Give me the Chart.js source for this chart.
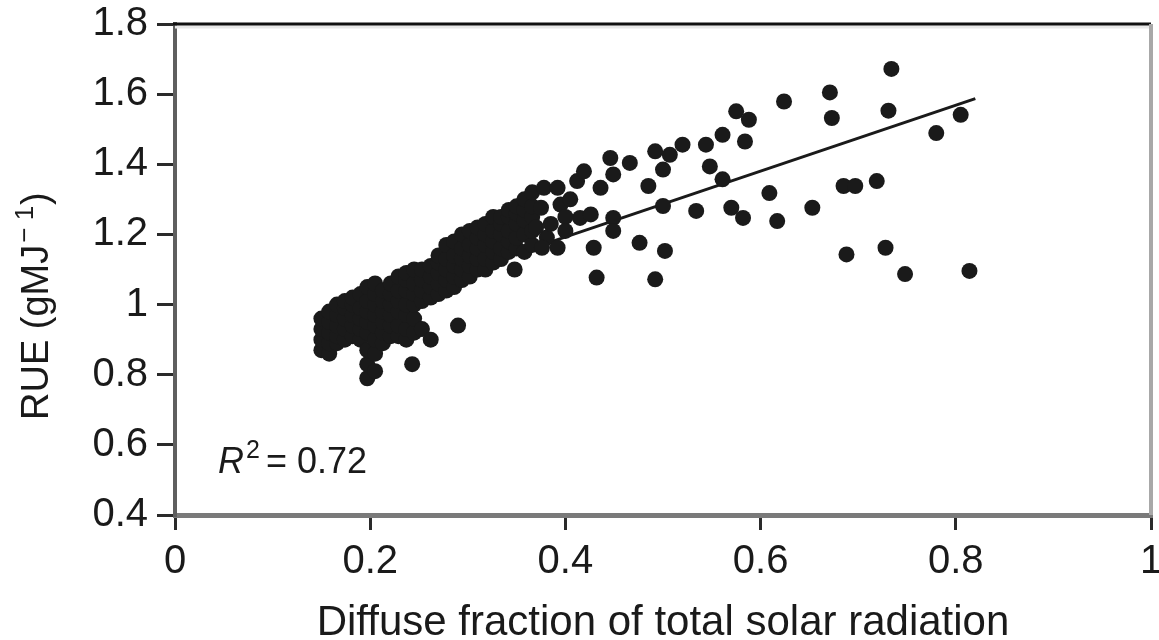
<!DOCTYPE html>
<html>
<head>
<meta charset="utf-8">
<title>RUE vs diffuse fraction</title>
<script src="https://cdn.jsdelivr.net/npm/chart.js@4.4.1/dist/chart.umd.min.js"></script>
<style>
  html, body { margin: 0; padding: 0; background: #fff; }
  #wrap { width: 1159px; height: 640px; }
</style>
</head>
<body>
<div id="wrap"><canvas id="rueChart" width="1159" height="640"></canvas></div>
<script>
// diffuse fraction (x) and RUE (y)
var diffuseFraction = [
  0.150, 0.150, 0.150, 0.150,
  0.158, 0.158, 0.158, 0.158, 0.158,
  0.166, 0.166, 0.166, 0.166, 0.166,
  0.174, 0.174, 0.174, 0.174, 0.174,
  0.182, 0.182, 0.182, 0.182, 0.182,
  0.190, 0.190, 0.190, 0.190, 0.190,
  0.197, 0.197, 0.197, 0.197, 0.197, 0.197, 0.197, 0.197,
  0.205, 0.205, 0.205, 0.205, 0.205, 0.205, 0.205, 0.205,
  0.213, 0.213, 0.213, 0.213, 0.213, 0.213,
  0.221, 0.221, 0.221, 0.221, 0.221, 0.221,
  0.229, 0.229, 0.229, 0.229, 0.229, 0.229,
  0.237, 0.237, 0.237, 0.237, 0.237, 0.237, 0.237,
  0.243,
  0.245, 0.245, 0.245, 0.245, 0.245, 0.245,
  0.253, 0.253, 0.253, 0.253, 0.253,
  0.262, 0.262, 0.262, 0.262, 0.262,
  0.270, 0.270, 0.270, 0.270, 0.270,
  0.278, 0.278, 0.278, 0.278, 0.278,
  0.286, 0.286, 0.286, 0.286, 0.286,
  0.290,
  0.294, 0.294, 0.294, 0.294, 0.294,
  0.302, 0.302, 0.302, 0.302, 0.302,
  0.310, 0.310, 0.310, 0.310, 0.310,
  0.318, 0.318, 0.318, 0.318, 0.318,
  0.326, 0.326, 0.326, 0.326, 0.326,
  0.334, 0.334, 0.334, 0.334, 0.334,
  0.342, 0.342, 0.342, 0.342, 0.342,
  0.348,
  0.350, 0.350, 0.350, 0.350, 0.350,
  0.358, 0.358, 0.358, 0.358, 0.358,
  0.366, 0.366, 0.366, 0.366, 0.366,
  0.378, 0.392, 0.412, 0.419, 0.436, 0.446, 0.449, 0.466, 0.375, 0.395,
  0.415, 0.426, 0.449, 0.449, 0.381, 0.392, 0.376, 0.429, 0.476, 0.502,
  0.432, 0.492, 0.485, 0.500, 0.492, 0.507, 0.520, 0.544, 0.561, 0.548,
  0.561, 0.575, 0.500, 0.534, 0.570, 0.588, 0.584, 0.582, 0.609, 0.617,
  0.653, 0.624, 0.671, 0.673, 0.685, 0.697, 0.719, 0.688, 0.728, 0.748,
  0.814, 0.734, 0.731, 0.805, 0.780, 0.385, 0.400, 0.405, 0.370, 0.400
];
var rue = [
  0.87, 0.90, 0.93, 0.96,
  0.86, 0.89, 0.92, 0.95, 0.98,
  0.89, 0.91, 0.94, 0.97, 1.00,
  0.90, 0.93, 0.96, 0.99, 1.01,
  0.91, 0.94, 0.97, 1.00, 1.02,
  0.90, 0.93, 0.96, 0.99, 1.03,
  0.79, 0.83, 0.87, 0.92, 0.95, 0.98, 1.01, 1.05,
  0.81, 0.86, 0.90, 0.94, 0.97, 1.00, 1.03, 1.06,
  0.89, 0.92, 0.95, 0.98, 1.01, 1.04,
  0.91, 0.94, 0.97, 1.00, 1.03, 1.06,
  0.91, 0.94, 0.98, 1.01, 1.04, 1.08,
  0.90, 0.93, 0.97, 1.00, 1.04, 1.07, 1.09,
  0.83,
  0.92, 0.96, 1.00, 1.03, 1.06, 1.10,
  0.93, 1.01, 1.04, 1.07, 1.10,
  0.90, 1.02, 1.05, 1.08, 1.11,
  1.03, 1.06, 1.09, 1.12, 1.14,
  1.04, 1.07, 1.10, 1.13, 1.17,
  1.05, 1.08, 1.11, 1.14, 1.18,
  0.94,
  1.07, 1.10, 1.13, 1.16, 1.20,
  1.08, 1.11, 1.14, 1.17, 1.21,
  1.10, 1.13, 1.16, 1.19, 1.22,
  1.10, 1.13, 1.17, 1.20, 1.23,
  1.12, 1.15, 1.18, 1.21, 1.25,
  1.13, 1.16, 1.20, 1.23, 1.25,
  1.15, 1.18, 1.21, 1.25, 1.27,
  1.10,
  1.16, 1.19, 1.23, 1.26, 1.28,
  1.15, 1.20, 1.24, 1.27, 1.30,
  1.17, 1.21, 1.25, 1.28, 1.32,
  1.333, 1.333, 1.352, 1.380, 1.333, 1.418, 1.371, 1.404, 1.276, 1.285,
  1.247, 1.257, 1.247, 1.210, 1.191, 1.162, 1.162, 1.162, 1.176, 1.153,
  1.077, 1.072, 1.338, 1.385, 1.437, 1.427, 1.456, 1.456, 1.484, 1.394,
  1.357, 1.551, 1.281, 1.267, 1.276, 1.527, 1.465, 1.247, 1.318, 1.238,
  1.276, 1.579, 1.605, 1.532, 1.338, 1.338, 1.352, 1.143, 1.162, 1.087,
  1.096, 1.672, 1.553, 1.541, 1.489, 1.230, 1.250, 1.300, 1.220, 1.210
];

// fitted line end points
var fitX = [0.15, 0.82];
var fitY = [0.958, 1.587];

var xTickValues = [0, 0.2, 0.4, 0.6, 0.8, 1];
var xTickLabels = ['0', '0.2', '0.4', '0.6', '0.8', '1'];
var yTickValues = [0.4, 0.6, 0.8, 1.0, 1.2, 1.4, 1.6, 1.8];
var yTickLabels = ['0.4', '0.6', '0.8', '1', '1.2', '1.4', '1.6', '1.8'];

var FONT = '"Liberation Sans", Arial, Helvetica, sans-serif';
var INK = '#1a1a1a';

var scatterPoints = [];
for (var i = 0; i < diffuseFraction.length; i++) {
  scatterPoints.push({ x: diffuseFraction[i], y: rue[i] });
}
var fitPoints = [];
for (var j = 0; j < fitX.length; j++) {
  fitPoints.push({ x: fitX[j], y: fitY[j] });
}

// top / right frame, y title with superscript unit, and the R^2 note
var framePlugin = {
  id: 'frame',
  afterDraw: function (chart) {
    var a = chart.chartArea;
    var ctx = chart.ctx;
    ctx.save();
    ctx.fillStyle = '#e8e8e8';
    ctx.fillRect(a.left, a.top + 1.5, a.right - a.left, 3);
    ctx.strokeStyle = '#111';
    ctx.lineWidth = 3;
    ctx.beginPath();
    ctx.moveTo(a.left - 2, a.top);
    ctx.lineTo(a.right, a.top);
    ctx.stroke();
    ctx.strokeStyle = '#a8a8a8';
    ctx.lineWidth = 4;
    ctx.beginPath();
    ctx.moveTo(a.right, a.top);
    ctx.lineTo(a.right, a.bottom);
    ctx.stroke();

    // y title: RUE (gMJ^-1)
    ctx.save();
    ctx.translate(48, 420);
    ctx.rotate(-Math.PI / 2);
    ctx.fillStyle = INK;
    ctx.textAlign = 'left';
    ctx.textBaseline = 'alphabetic';
    ctx.font = '38px ' + FONT;
    var t1 = 'RUE (gMJ';
    ctx.fillText(t1, 0, 0);
    var off = ctx.measureText(t1).width + 2;
    ctx.font = '26px ' + FONT;
    ctx.fillText('\u2212 1', off, -15);
    off += ctx.measureText('\u2212 1').width + 1;
    ctx.font = '38px ' + FONT;
    ctx.fillText(')', off, 0);
    ctx.restore();

    var px = chart.scales.x.getPixelForValue(0.044);
    var py = chart.scales.y.getPixelForValue(0.52);
    ctx.fillStyle = INK;
    ctx.textBaseline = 'alphabetic';
    ctx.textAlign = 'left';
    ctx.font = 'italic 36px ' + FONT;
    ctx.fillText('R', px, py);
    var w = ctx.measureText('R').width;
    ctx.font = '25px ' + FONT;
    ctx.fillText('2', px + w + 2, py - 15);
    ctx.font = '36px ' + FONT;
    ctx.fillText('= 0.72', px + w + 22, py);
    ctx.restore();
  }
};

var ctx = document.getElementById('rueChart').getContext('2d');
var chart = new Chart(ctx, {
  type: 'scatter',
  data: {
    datasets: [
      {
        label: 'RUE',
        data: scatterPoints,
        backgroundColor: INK,
        borderWidth: 0,
        pointRadius: 8,
        pointHoverRadius: 8
      },
      {
        type: 'line',
        label: 'fit',
        data: fitPoints,
        borderColor: INK,
        borderWidth: 3,
        pointRadius: 0,
        fill: false,
        tension: 0
      }
    ]
  },
  options: {
    responsive: false,
    animation: false,
    devicePixelRatio: 1,
    events: [],
    layout: { padding: { top: 24, right: 2, left: 0, bottom: 0 } },
    plugins: {
      legend: { display: false },
      tooltip: { enabled: false }
    },
    scales: {
      x: {
        type: 'linear',
        position: 'bottom',
        min: 0,
        max: 1,
        afterBuildTicks: function (scale) {
          scale.ticks = xTickValues.map(function (v) { return { value: v }; });
        },
        afterFit: function (scale) {
          scale.height = 125;
          scale.paddingLeft = 0;
          scale.paddingRight = 0;
        },
        border: { display: true, color: '#7a7a7a', width: 5 },
        grid: { drawOnChartArea: false, drawTicks: true, tickLength: 15, color: '#2a2a2a', lineWidth: 3 },
        ticks: {
          color: INK,
          font: { family: FONT, size: 40 },
          padding: 8,
          maxRotation: 0,
          autoSkip: false,
          callback: function (value, index) { return xTickLabels[index]; }
        },
        title: {
          display: true,
          text: 'Diffuse fraction of total solar radiation',
          color: INK,
          font: { family: FONT, size: 42, lineHeight: 0.8 },
          padding: { top: 0, bottom: 0 }
        }
      },
      y: {
        type: 'linear',
        position: 'left',
        min: 0.4,
        max: 1.8,
        afterBuildTicks: function (scale) {
          scale.ticks = yTickValues.map(function (v) { return { value: v }; });
        },
        afterFit: function (scale) {
          scale.width = 175;
          scale.paddingTop = 0;
          scale.paddingBottom = 0;
        },
        border: { display: true, color: '#5f5f5f', width: 4 },
        grid: { drawOnChartArea: false, drawTicks: true, tickLength: 18, color: '#2a2a2a', lineWidth: 3 },
        ticks: {
          color: INK,
          font: { family: FONT, size: 40 },
          padding: 9,
          autoSkip: false,
          callback: function (value, index) { return yTickLabels[index]; }
        },
        title: { display: false }
      }
    }
  },
  plugins: [framePlugin]
});
</script>
</body>
</html>
